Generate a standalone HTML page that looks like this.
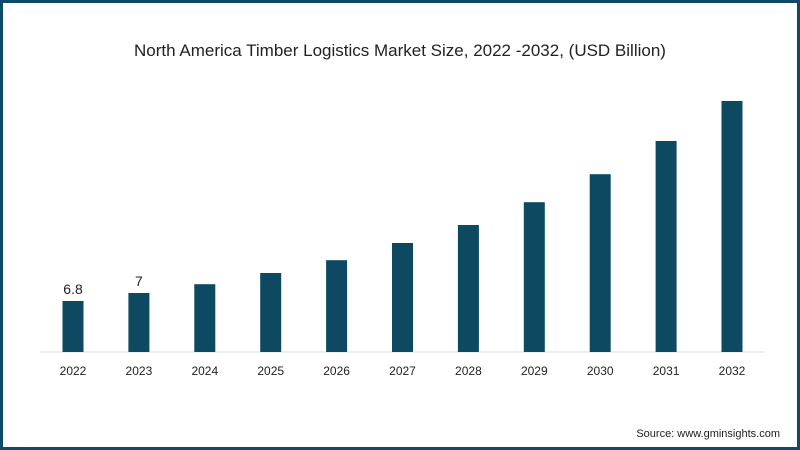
<!DOCTYPE html>
<html><head><style>
body{margin:0;width:800px;height:450px;overflow:hidden;background:#fff;font-family:"Liberation Sans",sans-serif}
#frame{position:absolute;left:0;top:0;width:794px;height:444px;border:3px solid #0d4a66;background:#fff}
</style></head><body>
<div id="frame"></div>
<svg width="800" height="450" style="position:absolute;left:0;top:0">
<text x="400" y="56" text-anchor="middle" font-size="17" fill="#222">North America Timber Logistics Market Size, 2022 -2032, (USD Billion)</text>
<line x1="40" y1="352" x2="765" y2="352" stroke="#ddd" stroke-width="1"/>
<g id="bars"></g>
<text x="780" y="437" text-anchor="end" font-size="11" fill="#222">Source: www.gminsights.com</text>
</svg>
<script>
const categories=["2022","2023","2024","2025","2026","2027","2028","2029","2030","2031","2032"];
const values=[6.8,7.0,7.22,7.5,7.82,8.25,8.7,9.27,9.97,10.8,11.8];
const labels=["6.8","7","","","","","","","","",""];
const yMin=5.525,base=352,pxPerUnit=40,x0=73,step=65.9,bw=21;
const y=v=>base-(v-yMin)*pxPerUnit;
const x=i=>x0+i*step;
const g=document.getElementById('bars');
const ns="http://www.w3.org/2000/svg";
categories.forEach((c,i)=>{
 const r=document.createElementNS(ns,'rect');
 r.setAttribute('x',x(i)-bw/2);r.setAttribute('y',y(values[i]));
 r.setAttribute('width',bw);r.setAttribute('height',base-y(values[i]));
 r.setAttribute('fill','#0d4a62');
 
 
 g.appendChild(r);
 const t=document.createElementNS(ns,'text');
 t.setAttribute('x',x(i));t.setAttribute('y',375);t.setAttribute('text-anchor','middle');
 t.setAttribute('font-size','12');t.setAttribute('fill','#222');t.textContent=c;
 
 
 g.appendChild(t);
 if(labels[i]){
  const l=document.createElementNS(ns,'text');
  l.setAttribute('x',x(i));l.setAttribute('y',y(values[i])-7);l.setAttribute('text-anchor','middle');
  l.setAttribute('font-size','14');l.setAttribute('fill','#222');l.textContent=labels[i];
  
  
  g.appendChild(l);
 }
});
</script>
</body></html>
